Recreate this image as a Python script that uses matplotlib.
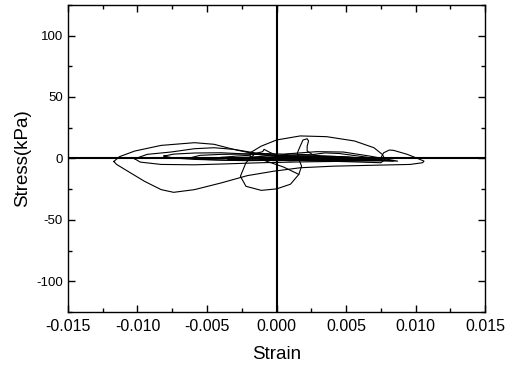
import numpy as np
import matplotlib
matplotlib.use("Agg")
import matplotlib.pyplot as plt
from matplotlib.ticker import MultipleLocator, FormatStrFormatter

plt.rcParams['font.family'] = ['Liberation Sans', 'DejaVu Sans']
plt.rcParams['axes.unicode_minus'] = False

# loops: strain in 1e-3, stress in kPa
loop_a_x = [-11.7, -11.3, -10.2, -8.3, -5.9, -4.5, -3.1, -1.6, 0.0, 3.0, 6.0, 7.5, 7.7, 8.1, 8.4,
            9.4, 10.2, 10.6, 10.5, 9.6, 7.2, 4.1, 1.7, -0.2, -2.1, -4.0, -5.9, -7.4, -8.3, -9.5,
            -10.7, -11.5, -11.7]
loop_a_y = [-2.5, 1.4, 6.0, 10.6, 12.8, 11.5, 7.4, 4.6, 2.5, 1.5, 0.5, 0.5, 4.6, 6.8, 6.6,
            3.3, -0.3, -2.2, -3.5, -4.9, -5.5, -6.3, -7.6, -10.4, -14.0, -20.0, -25.4, -27.6, -25.4, -18.6,
            -10.4, -4.9, -2.5]

loop_b_x = [-10.2, -9.3, -7.6, -5.9, -4.5, -3.1, -1.5, 0.0, 2.0, 4.0, 6.0, 7.8, 6.0, 4.0, 2.0,
            -1.1, -3.5, -5.9, -8.3, -9.8, -10.2]
loop_b_y = [-0.3, 3.3, 5.2, 7.9, 8.7, 7.4, 3.5, 1.5, 0.8, 0.2, -0.5, -1.8, -2.2, -2.5, -2.8,
            -3.5, -4.4, -5.2, -4.9, -3.0, -0.3]

loop_c_x = [-8.1, -7.4, -5.9, -4.0, -2.5, -1.0, 0.5, 2.5, 4.5, 6.5, 8.4, 6.0, 3.0, 0.0, -2.0,
            -3.5, -5.9, -7.4, -8.1]
loop_c_y = [1.9, 3.5, 4.4, 4.6, 3.8, 3.0, 2.2, 2.0, 1.5, 0.2, -2.2, -1.5, -1.8, -1.5, -1.8,
            -1.6, -0.8, 0.3, 1.9]

loop_d_x = [-6.2, -5.5, -4.0, -2.5, -1.0, 0.5, 2.9, 4.8, 6.7, 8.7, 6.5, 4.0, 1.5, -1.0, -3.5,
            -5.2, -6.2]
loop_d_y = [0.5, 2.5, 3.3, 3.5, 4.0, 3.5, 5.5, 5.2, 1.9, -2.2, -1.2, -0.8, -1.0, -1.2, -1.4,
            -0.8, 0.5]

loop_e_x = [-1.9, -1.1, 0.0, 1.7, 3.6, 5.6, 7.0, 7.6, 7.8, 7.5, 5.5, 3.6, 1.5, -1.1, -1.9, -1.9]
loop_e_y = [4.6, 10.0, 15.0, 18.3, 17.7, 14.2, 8.7, 3.3, -0.8, -3.5, -2.8, -2.2, -1.5, -0.8, 1.5, 4.6]

loop_f_x = [-1.6, -2.2, -2.6, -2.2, -1.1, 0.0, 1.0, 1.6, 1.8, 1.6, 1.5, 1.7, 1.9, 2.2, 2.3,
            2.2, 2.2, 2.6, 3.5]
loop_f_y = [3.3, -3.5, -14.5, -22.7, -26.0, -24.8, -21.0, -13.0, -6.3, -0.8, 4.6, 10.0, 15.0, 16.0, 14.2,
            10.0, 6.0, 3.0, 1.0]

diag_x = [-1.1, 0.5, 1.6]
diag_y = [-0.8, -7.0, -13.0]

loop_g_x = [-4.0, -3.0, -2.0, -1.0, -0.9, -0.5, 0.0, 1.0, 2.5, 3.5, 4.5, 5.5, 6.5, 7.5, 6.0,
            4.0, 2.0, 0.0, -2.0, -4.0]
loop_g_y = [0.8, 1.8, 2.5, 5.5, 7.4, 5.0, 2.5, 3.5, 3.0, 4.5, 4.0, 2.5, 1.0, -1.0, -0.5,
            -1.2, -0.5, -0.3, 0.3, 0.8]

loop_h_x = [-3.8, -2.0, -0.5, 1.0, 3.0, 5.0, 7.0, 5.5, 3.0, 1.0, -1.0, -2.5, -3.8]
loop_h_y = [0.2, 1.0, 2.0, 1.5, 2.2, 1.2, -0.2, -1.8, -1.0, -2.0, -0.5, -0.5, 0.2]

loop_i_x = [-3.5, -2.0, 0.0, 2.0, 4.0, 6.0, 8.0, 6.0, 4.0, 2.0, 0.0, -2.0, -3.5]
loop_i_y = [-0.5, 0.5, 0.8, 0.3, 0.8, 0.5, -1.5, -1.0, -1.5, -1.2, -1.8, -1.2, -0.5]

curves = [(loop_a_x, loop_a_y), (loop_b_x, loop_b_y), (loop_c_x, loop_c_y),
          (loop_d_x, loop_d_y), (loop_e_x, loop_e_y), (loop_f_x, loop_f_y),
          (diag_x, diag_y), (loop_g_x, loop_g_y), (loop_h_x, loop_h_y), (loop_i_x, loop_i_y)]

fig = plt.figure(figsize=(5.07, 3.71), dpi=100)
ax = fig.add_axes([0.134, 0.159, 0.823, 0.828])

for cx, cy in curves:
    ax.plot(np.array(cx) * 1e-3, cy, color='black', lw=0.8)

ax.axhline(0, color='black', lw=1.5)
ax.axvline(0, color='black', lw=1.5)

ax.set_xlim(-0.015, 0.015)
ax.set_ylim(-125, 125)
ax.xaxis.set_major_locator(MultipleLocator(0.005))
ax.xaxis.set_minor_locator(MultipleLocator(0.0025))
ax.yaxis.set_major_locator(MultipleLocator(50))
ax.yaxis.set_minor_locator(MultipleLocator(25))
ax.xaxis.set_major_formatter(FormatStrFormatter('%.3f'))
ax.tick_params(which='both', direction='in', top=True, right=True, width=1)
ax.tick_params(which='major', length=5)
ax.tick_params(which='minor', length=3)
ax.tick_params(axis='x', labelsize=11.5, pad=5)
ax.tick_params(axis='y', labelsize=9.5)
for s in ax.spines.values():
    s.set_linewidth(1.0)

ax.set_xlabel('Strain', fontsize=13.5, labelpad=9)
ax.set_ylabel('Stress(kPa)', fontsize=13.5, labelpad=4)

fig.savefig('out.png', dpi=100)
